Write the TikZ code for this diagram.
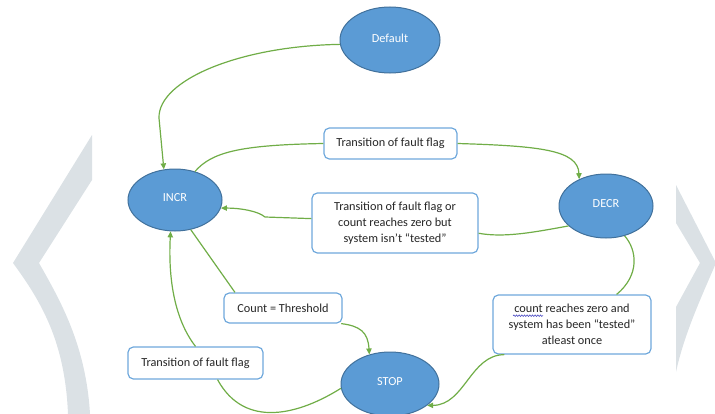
\documentclass[tikz,border=0pt]{standalone}
\usepackage{fontspec}
\setmainfont{Carlito}
\usetikzlibrary{shapes.geometric,arrows.meta,decorations.pathmorphing}
\definecolor{chev}{HTML}{DBE1E5}
\definecolor{stfill}{HTML}{5B9BD5}
\definecolor{stdraw}{HTML}{41719C}
\definecolor{boxdraw}{HTML}{6FA8DC}
\definecolor{txt}{HTML}{262626}
\definecolor{linkgreen}{HTML}{70AD47}
\definecolor{spell}{HTML}{3F3FBF}
\tikzset{
  stnode/.style={ellipse, fill=stfill, draw=stdraw, line width=0.75pt, text=white,
    font=\fontsize{9.2}{11}\selectfont, inner sep=0pt},
  cond/.style={rectangle, rounded corners=4pt, draw=boxdraw, fill=white, line width=0.9pt,
    text=txt, align=center, font=\fontsize{9.2}{12.2}\selectfont, inner sep=0pt},
  conn/.style={draw=linkgreen, line width=0.9pt},
  arr/.style={conn, -{Triangle[length=4.5pt,width=4pt]}},
  spellmark/.style={draw=spell, line width=0.4pt, decorate,
    decoration={snake, amplitude=0.6pt, segment length=2pt}},
}
\begin{document}
\begin{tikzpicture}[x=0.75pt,y=-0.75pt]
\useasboundingbox (0,0) rectangle (715,414);
% background chevrons
\fill[chev] (92,135) -- (13,263) .. controls (40,300) and (65,340) .. (68,414)
  -- (90,414) .. controls (86,345) and (60,300) .. (39,263) -- (92,180) -- cycle;
\fill[chev] (676,185) -- (716,263) .. controls (700,300) and (684,335) .. (676,372)
  -- (676,307) -- (700,263) -- (676,223) -- cycle;
% states
\node[stnode, minimum width=75pt, minimum height=49.5pt] (default) at (390,40) {\raisebox{3pt}{Default}};
\node[stnode, minimum width=70.5pt, minimum height=46.5pt] (incr) at (175,200) {\raisebox{3pt}{INCR}};
\node[stnode, minimum width=70.5pt, minimum height=48pt] (decr) at (606,206) {\raisebox{3pt}{DECR}};
\node[stnode, minimum width=73.5pt, minimum height=48pt] (stop) at (390,384) {\raisebox{3pt}{STOP}};
% conditions
\node[cond, minimum width=99.75pt, minimum height=23.25pt] (top) at (390.5,143.5) {Transition of fault flag};
\node[cond, minimum width=124.5pt, minimum height=45pt] (mid) at (395,223) {Transition of fault flag or\\count reaches zero but\\system isn’t “tested”};
\node[cond, minimum width=88.5pt, minimum height=22.5pt] (count) at (283,308) {Count = Threshold};
\node[cond, minimum width=101.25pt, minimum height=24pt] (bl) at (195.5,363) {Transition of fault flag};
\node[cond, minimum width=118.5pt, minimum height=44.25pt] (br) at (572,324.5) {count reaches zero and\\system has been “tested”\\atleast once};
\draw[spellmark] ([xshift=-44.25pt,yshift=6.6pt]br.center) -- ([xshift=-21.75pt,yshift=6.6pt]br.center);
% connectors
\draw[arr] (default.185) .. controls (240,46) and (158,80) .. (159,118) -- (incr.110);
\draw[conn] (incr.55) .. controls (212,152) and (240,145) .. (top.west);
\draw[arr] (top.east) .. controls (540,146) and (578,150) .. (decr.135);
\draw[conn] (decr.208) .. controls (535,232) and (505,238) .. (mid.-7);
\draw[arr] (mid.177) -- (265,217) .. controls (258,211) and (240,208) .. (incr.-10);
\draw[conn] (incr.-62) -- (count.162);
\draw[arr] (count.-15) .. controls (360,326) and (368,332) .. (stop.125);
\draw[conn] (stop.185) .. controls (300,414) and (245,430) .. (bl.-37);
\draw[arr] (bl.north) .. controls (175,320) and (168,280) .. (incr.-98);
\draw[conn] (decr.-58) .. controls (637,250) and (640,275) .. (br.34);
\draw[arr] (br.204) .. controls (470,355) and (465,405) .. (stop.-30);
\end{tikzpicture}
\end{document}
